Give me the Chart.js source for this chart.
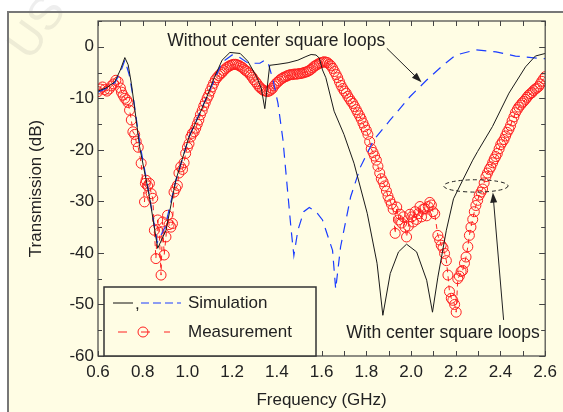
<!DOCTYPE html>
<html>
<head>
<meta charset="utf-8">
<script src="https://cdn.jsdelivr.net/npm/chart.js@4.4.1/dist/chart.umd.min.js"></script>
<style>
  html, body { margin: 0; padding: 0; background: #fff; }
  canvas { display: block; }
</style>
</head>
<body>
<canvas id="transChart" width="563" height="412"></canvas>
<script>
// axis ticks
const xTicks = [0.6, 0.8, 1.0, 1.2, 1.4, 1.6, 1.8, 2.0, 2.2, 2.4, 2.6];
const yTicks = [-60, -50, -40, -30, -20, -10, 0];
const xMinorTicks = [0.6, 0.7, 0.8, 0.9, 1.0, 1.1, 1.2, 1.3, 1.4, 1.5, 1.6, 1.7, 1.8, 1.9, 2.0, 2.1, 2.2, 2.3, 2.4, 2.5, 2.6];
const yMinorTicks = [-60, -55, -50, -45, -40, -35, -30, -25, -20, -15, -10, -5, 0, 5];

// simulation, with center square loops (black solid)
const withFreq = [0.6, 0.64, 0.675, 0.70, 0.72, 0.735, 0.749, 0.771, 0.786, 0.83, 0.867, 0.904, 0.948, 1.007, 1.05,
  1.087, 1.12, 1.155, 1.19, 1.236, 1.27, 1.309, 1.33, 1.346, 1.368, 1.405, 1.45, 1.494, 1.53, 1.553, 1.575, 1.59,
  1.604, 1.619, 1.656, 1.70, 1.745, 1.804, 1.848, 1.874, 1.907, 1.944, 1.98, 2.025, 2.07, 2.096, 2.12, 2.158, 2.19,
  2.231, 2.276, 2.298, 2.364, 2.438, 2.512, 2.556, 2.6];
const withDb = [-8.6, -7.9, -6.8, -4.5, -2.1, -3.5, -7.1, -14.2, -19.4, -29.1, -39.1, -35.6, -25.9, -17.5, -13.5,
  -9.7, -6.0, -2.6, -1.1, -1.3, -2.8, -5.8, -8.0, -12.0, -3.6, -3.4, -3.1, -2.6, -1.9, -1.5, -1.6, -2.2,
  -4.5, -6.0, -12.5, -17.0, -22.6, -32.3, -42.0, -52.1, -44.0, -39.8, -38.3, -39.8, -45.3, -51.5, -44.7, -35.6, -29.5,
  -25.9, -22.0, -20.3, -15.5, -9.0, -3.9, -1.8, -1.3];

// simulation, without center square loops (blue dashed)
const noLoopFreq = [0.6, 0.64, 0.675, 0.70, 0.72, 0.74, 0.76, 0.786, 0.83, 0.865, 0.9, 0.948, 1.007, 1.087, 1.155,
  1.20, 1.228, 1.272, 1.324, 1.346, 1.36, 1.383, 1.405, 1.427, 1.448, 1.464, 1.476, 1.494, 1.52, 1.545, 1.575,
  1.604, 1.649, 1.663, 1.685, 1.73, 1.774, 1.833, 1.907, 1.995, 2.069, 2.143, 2.2, 2.29, 2.38, 2.467, 2.585, 2.6];
const noLoopDb = [-8.8, -8.0, -7.0, -5.0, -2.6, -5.5, -10.5, -18.5, -29.0, -38.0, -35.0, -26.0, -17.5, -9.7, -3.0,
  -1.6, -1.9, -3.2, -3.2, -2.6, -3.0, -6.5, -11.0, -18.0, -28.0, -35.6, -40.5, -35.6, -32.0, -31.2, -32.0,
  -33.6, -39.5, -47.0, -38.8, -29.1, -23.3, -18.1, -14.2, -9.7, -6.5, -3.6, -1.6, -0.6, -1.0, -1.8, -2.3, -2.3];

// measurement (red circles)
const measFreq = [0.600, 0.610, 0.620, 0.630, 0.640, 0.650, 0.660, 0.670, 0.680, 0.690, 0.700, 0.705, 0.712, 0.720,
  0.728, 0.734, 0.741, 0.749, 0.756, 0.764, 0.771, 0.780, 0.793, 0.808, 0.812, 0.815, 0.822, 0.830, 0.838, 0.845,
  0.852, 0.859, 0.867, 0.874, 0.882, 0.889, 0.896, 0.904, 0.911, 0.918, 0.926, 0.933, 0.940, 0.948, 0.955, 0.962,
  0.970, 0.978, 0.985, 0.992, 1.000, 1.007, 1.015, 1.022, 1.030, 1.037, 1.044, 1.051, 1.058, 1.066, 1.073, 1.080,
  1.088, 1.095, 1.102, 1.110, 1.117, 1.125, 1.132, 1.140, 1.147, 1.155, 1.162, 1.170, 1.177, 1.185, 1.192, 1.200,
  1.207, 1.215, 1.222, 1.230, 1.237, 1.245, 1.252, 1.260, 1.267, 1.275, 1.282, 1.290, 1.297, 1.305, 1.312, 1.320,
  1.327, 1.335, 1.342, 1.350, 1.357, 1.365, 1.372, 1.380, 1.387, 1.395, 1.402, 1.410, 1.417, 1.425, 1.432, 1.440,
  1.447, 1.455, 1.462, 1.470, 1.477, 1.485, 1.492, 1.500, 1.507, 1.515, 1.522, 1.530, 1.537, 1.545, 1.552, 1.560,
  1.567, 1.575, 1.582, 1.590, 1.597, 1.605, 1.612, 1.620, 1.627, 1.635, 1.642, 1.650, 1.657, 1.665, 1.672, 1.680,
  1.687, 1.695, 1.702, 1.710, 1.717, 1.725, 1.732, 1.740, 1.747, 1.755, 1.762, 1.770, 1.777, 1.785, 1.792, 1.800,
  1.807, 1.815, 1.822, 1.830, 1.837, 1.845, 1.852, 1.860, 1.867, 1.875, 1.882, 1.890, 1.897, 1.905, 1.912, 1.920,
  1.929, 1.936, 1.944, 1.951, 1.958, 1.966, 1.973, 1.980, 1.988, 1.995, 2.003, 2.010, 2.018, 2.025, 2.032, 2.040,
  2.047, 2.055, 2.062, 2.070, 2.077, 2.084, 2.091, 2.098, 2.106, 2.120, 2.128, 2.135, 2.143, 2.150, 2.158, 2.165,
  2.172, 2.180, 2.187, 2.195, 2.202, 2.209, 2.216, 2.224, 2.231, 2.239, 2.246, 2.254, 2.261, 2.268, 2.276, 2.283,
  2.290, 2.298, 2.305, 2.313, 2.320, 2.327, 2.335, 2.342, 2.350, 2.357, 2.365, 2.372, 2.379, 2.386, 2.394, 2.401,
  2.408, 2.416, 2.423, 2.430, 2.438, 2.445, 2.452, 2.460, 2.467, 2.475, 2.482, 2.490, 2.497, 2.504, 2.512, 2.519,
  2.526, 2.534, 2.541, 2.548, 2.556, 2.563, 2.571, 2.578, 2.585, 2.593, 2.600];
const measDb = [-8.7, -8.2, -7.8, -8.3, -8.6, -8.2, -7.6, -7.2, -6.5, -6.8, -8.0, -8.8, -9.4, -10.0,
  -10.3, -10.8, -12.3, -14.2, -16.5, -17.0, -18.4, -19.5, -22.6, -30.1, -26.5, -25.9, -27.0, -26.5, -28.5, -29.4,
  -35.6, -41.1, -33.6, -36.0, -44.3, -34.0, -40.4, -36.9, -32.7, -34.5, -35.0, -34.3, -28.2, -27.5, -26.9, -24.5,
  -23.3, -23.8, -22.5, -20.7, -19.5, -18.8, -17.5, -16.8, -16.5, -15.8, -15.0, -14.2, -13.2, -12.4, -11.5, -10.8,
  -10.0, -9.4, -8.6, -7.8, -7.1, -6.4, -6.0, -5.6, -5.3, -5.0, -4.6, -4.3, -4.0, -3.8, -3.6, -3.5,
  -3.4, -3.4, -3.5, -3.6, -3.8, -4.0, -4.3, -4.6, -4.8, -5.1, -5.5, -5.9, -6.4, -6.8, -7.2, -7.7,
  -8.0, -8.3, -8.5, -8.6, -8.7, -8.6, -8.4, -8.1, -7.6, -7.2, -6.9, -6.6, -6.3, -6.1, -5.9, -5.8,
  -5.6, -5.5, -5.4, -5.4, -5.3, -5.3, -5.3, -5.2, -5.2, -5.1, -5.0, -4.9, -4.8, -4.6, -4.4, -4.1,
  -3.8, -3.6, -3.4, -3.2, -3.1, -3.0, -2.9, -3.0, -3.1, -3.4, -3.7, -4.2, -4.8, -5.4, -6.0, -6.8,
  -7.5, -8.1, -8.6, -9.0, -9.6, -10.1, -10.6, -11.0, -11.6, -12.2, -12.8, -13.4, -14.0, -14.8, -15.5, -16.2,
  -17.0, -18.4, -19.8, -20.5, -21.2, -22.0, -23.2, -24.5, -25.6, -26.2, -27.0, -28.0, -29.0, -29.8, -30.5, -31.5,
  -36.2, -31.1, -33.6, -32.5, -34.2, -33.0, -35.0, -36.9, -34.8, -32.5, -33.0, -34.0, -32.0, -33.5, -32.4, -31.0,
  -33.0, -31.5, -31.4, -32.8, -31.0, -30.2, -30.7, -32.0, -32.4, -36.6, -37.5, -38.5, -39.0, -40.1, -41.5, -44.3,
  -47.5, -48.8, -49.2, -50.0, -51.5, -45.0, -44.5, -43.6, -43.4, -42.0, -40.8, -38.8, -36.6, -35.0, -33.5, -32.0,
  -30.8, -29.8, -28.8, -28.2, -27.6, -26.4, -25.2, -24.5, -23.8, -23.3, -22.5, -21.8, -21.3, -20.7, -19.8, -19.0,
  -18.5, -18.0, -17.3, -16.6, -16.0, -15.3, -14.4, -13.6, -12.8, -12.2, -11.7, -11.3, -10.9, -10.6, -10.2, -9.8,
  -9.4, -9.1, -8.9, -8.5, -8.2, -8.0, -7.7, -7.2, -6.7, -6.2, -5.8];

const FONT = '"Liberation Sans", Arial, sans-serif';
const TEXT = '#222';
const BG = '#fffde4';

function toPoints(xs, ys) {
  return xs.map((x, i) => ({ x: x, y: ys[i] }));
}

function arrow(ctx, x1, y1, x2, y2) {
  const a = Math.atan2(y2 - y1, x2 - x1);
  ctx.beginPath();
  ctx.moveTo(x1, y1);
  ctx.lineTo(x2 - 6 * Math.cos(a), y2 - 6 * Math.sin(a));
  ctx.stroke();
  ctx.beginPath();
  ctx.moveTo(x2, y2);
  ctx.lineTo(x2 - 10 * Math.cos(a) + 3.5 * Math.sin(a), y2 - 10 * Math.sin(a) - 3.5 * Math.cos(a));
  ctx.lineTo(x2 - 10 * Math.cos(a) - 3.5 * Math.sin(a), y2 - 10 * Math.sin(a) + 3.5 * Math.cos(a));
  ctx.closePath();
  ctx.fill();
}

const decorations = {
  id: 'decorations',
  beforeDraw(chart) {
    const ctx = chart.ctx;
    ctx.save();
    ctx.fillStyle = '#fff';
    ctx.fillRect(0, 0, chart.width, chart.height);
    ctx.fillStyle = BG;
    ctx.fillRect(8, 12, chart.width, chart.height);
    ctx.strokeStyle = '#777';
    ctx.lineWidth = 2;
    ctx.strokeRect(8, 12, chart.width + 10, chart.height + 10);
    // faint watermark
    ctx.translate(30, 62);
    ctx.rotate(-0.95);
    ctx.fillStyle = 'rgba(120,120,120,0.13)';
    ctx.font = '46px ' + FONT;
    ctx.fillText('USTA', 0, 0);
    ctx.restore();
  },
  afterDraw(chart) {
    const ctx = chart.ctx;
    const xs = chart.scales.x, ys = chart.scales.y;
    const a = chart.chartArea;
    ctx.save();

    // plot frame and inward ticks
    ctx.strokeStyle = '#444';
    ctx.lineWidth = 1.2;
    ctx.strokeRect(a.left, a.top, a.right - a.left, a.bottom - a.top);
    ctx.lineWidth = 1;
    ctx.beginPath();
    xMinorTicks.forEach(v => {
      const px = Math.round(xs.getPixelForValue(v)) + 0.5;
      ctx.moveTo(px, a.bottom); ctx.lineTo(px, a.bottom - 5);
      ctx.moveTo(px, a.top); ctx.lineTo(px, a.top + 5);
    });
    yMinorTicks.forEach(v => {
      const py = Math.round(ys.getPixelForValue(v)) + 0.5;
      const len = v % 10 === 0 ? 6 : 4;
      ctx.moveTo(a.left, py); ctx.lineTo(a.left + len, py);
      ctx.moveTo(a.right, py); ctx.lineTo(a.right - len, py);
    });
    ctx.stroke();

    // axis titles
    ctx.fillStyle = TEXT;
    ctx.font = '17px ' + FONT;
    ctx.textAlign = 'center';
    ctx.textBaseline = 'middle';
    ctx.fillText('Frequency (GHz)', (a.left + a.right) / 2, 400);
    ctx.save();
    ctx.translate(36, (a.top + a.bottom) / 2);
    ctx.rotate(-Math.PI / 2);
    ctx.fillText('Transmission (dB)', 0, 0);
    ctx.restore();

    // annotations
    ctx.textAlign = 'left';
    ctx.font = '17.5px ' + FONT;
    ctx.fillText('Without center square loops', xs.getPixelForValue(0.91), ys.getPixelForValue(1.1));
    ctx.fillText('With center square loops', xs.getPixelForValue(1.71), ys.getPixelForValue(-55.6));
    ctx.strokeStyle = '#222';
    ctx.fillStyle = '#222';
    ctx.lineWidth = 1;
    arrow(ctx, xs.getPixelForValue(1.892), ys.getPixelForValue(-0.3), xs.getPixelForValue(2.047), ys.getPixelForValue(-6.9));
    arrow(ctx, xs.getPixelForValue(2.414), ys.getPixelForValue(-53), xs.getPixelForValue(2.366), ys.getPixelForValue(-28.3));
    ctx.setLineDash([4, 3]);
    ctx.beginPath();
    const ex = xs.getPixelForValue(2.29), ey = ys.getPixelForValue(-27.0);
    const rx = xs.getPixelForValue(2.29 + 0.144) - ex, ry = ys.getPixelForValue(-27.0 - 1.2) - ey;
    ctx.ellipse(ex, ey, rx, ry, 0, 0, Math.PI * 2);
    ctx.stroke();
    ctx.setLineDash([]);

    // legend box
    const lx = a.left + 6, ly = a.bottom - 69, lw = 212, lh = 69;
    ctx.fillStyle = BG;
    ctx.fillRect(lx, ly, lw, lh);
    ctx.strokeStyle = '#333';
    ctx.lineWidth = 1.5;
    ctx.strokeRect(lx, ly, lw, lh);
    ctx.lineWidth = 1;
    const r1 = ly + 16, r2 = ly + 45;
    ctx.strokeStyle = '#111';
    ctx.beginPath(); ctx.moveTo(lx + 9, r1); ctx.lineTo(lx + 29, r1); ctx.stroke();
    ctx.fillStyle = TEXT;
    ctx.font = '17px ' + FONT;
    ctx.fillText(',', lx + 31, r1 + 1);
    ctx.strokeStyle = '#1a3cff';
    ctx.setLineDash([8, 4]);
    ctx.beginPath(); ctx.moveTo(lx + 37, r1); ctx.lineTo(lx + 77, r1); ctx.stroke();
    ctx.strokeStyle = '#ff2020';
    ctx.setLineDash([9, 14]);
    ctx.beginPath(); ctx.moveTo(lx + 14, r2); ctx.lineTo(lx + 66, r2); ctx.stroke();
    ctx.setLineDash([]);
    ctx.beginPath(); ctx.arc(lx + 39, r2, 5, 0, Math.PI * 2); ctx.stroke();
    ctx.fillStyle = TEXT;
    ctx.fillText('Simulation', lx + 84, r1);
    ctx.fillText('Measurement', lx + 84, r2);
    ctx.restore();
  }
};

new Chart(document.getElementById('transChart'), {
  type: 'scatter',
  data: {
    datasets: [
      {
        label: 'Measurement',
        data: toPoints(measFreq, measDb),
        showLine: true,
        borderColor: '#ff2020',
        borderWidth: 1,
        borderDash: [5, 4],
        pointRadius: 5,
        pointBorderWidth: 1,
        pointBorderColor: '#ff2020',
        pointBackgroundColor: 'rgba(0,0,0,0)',
        order: 3
      },
      {
        label: 'Without center square loops',
        data: toPoints(noLoopFreq, noLoopDb),
        showLine: true,
        borderColor: '#1a3cff',
        borderWidth: 1.2,
        borderDash: [10, 7],
        pointRadius: 0,
        order: 2
      },
      {
        label: 'With center square loops',
        data: toPoints(withFreq, withDb),
        showLine: true,
        borderColor: '#1a1a1a',
        borderWidth: 1,
        pointRadius: 0,
        order: 1
      }
    ]
  },
  options: {
    responsive: false,
    animation: false,
    devicePixelRatio: 1,
    layout: { padding: { top: 21, right: 13, left: 0, bottom: 0 } },
    plugins: { legend: { display: false }, tooltip: { enabled: false } },
    scales: {
      x: {
        type: 'linear',
        min: 0.6,
        max: 2.6,
        afterBuildTicks: s => { s.ticks = xTicks.map(v => ({ value: v })); },
        afterFit: s => { s.height = 56; },
        grid: { display: false, drawTicks: false },
        border: { display: false },
        ticks: {
          padding: 6,
          color: TEXT,
          font: { family: FONT, size: 17 },
          maxRotation: 0,
          autoSkip: false,
          callback: v => Number(v).toFixed(1)
        }
      },
      y: {
        min: -60,
        max: 5,
        afterBuildTicks: s => { s.ticks = yTicks.map(v => ({ value: v })); },
        afterFit: s => { s.width = 98; },
        grid: { display: false, drawTicks: false },
        border: { display: false },
        ticks: {
          padding: 4,
          color: TEXT,
          font: { family: FONT, size: 17 },
          callback: v => String(v)
        }
      }
    }
  },
  plugins: [decorations]
});
</script>
</body>
</html>
